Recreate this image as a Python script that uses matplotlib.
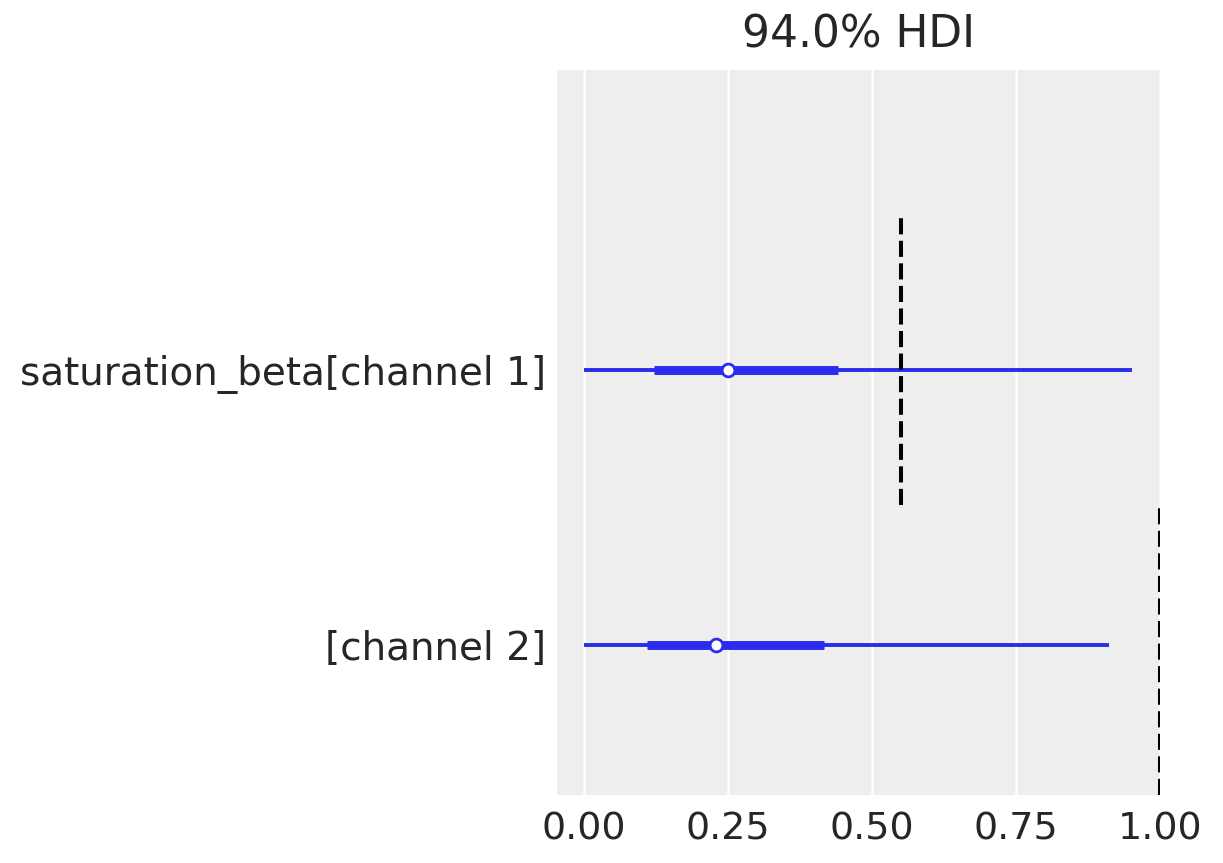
import matplotlib
matplotlib.use("Agg")
import matplotlib.pyplot as plt
import numpy as np

# forest plot data: 94% HDI, interquartile range, median, reference values
labels = ["saturation_beta[channel 1]", "[channel 2]"]
y_pos = [1.0, 0.0]
hdi_low = [0.0, 0.0]
hdi_high = [0.951, 0.911]
iqr_low = [0.122, 0.109]
iqr_high = [0.441, 0.417]
medians = [0.250, 0.229]
ref_values = [0.55, 1.0]
ref_spans = [(0.51, 1.565), (-0.545, 0.51)]

color = "#2a2eec"
text_color = "#262626"

fig = plt.figure(figsize=(6.115, 4.315), dpi=200)
ax = fig.add_axes([0.4554, 0.0788, 0.4931, 0.8401])
ax.set_facecolor("#eeeeee")
for s in ax.spines.values():
    s.set_visible(False)

for y, lo, hi, ql, qh, m in zip(y_pos, hdi_low, hdi_high, iqr_low, iqr_high, medians):
    ax.plot([lo, hi], [y, y], color=color, lw=1.4, solid_capstyle="butt", zorder=3)
    ax.plot([ql, qh], [y, y], color=color, lw=3.2, solid_capstyle="butt", zorder=3)
    ax.plot(m, y, "o", color=color, mfc="white", mec=color, ms=4.6, mew=1.0, zorder=4)

for v, (y0, y1) in zip(ref_values, ref_spans):
    ax.vlines(v, y0, y1, colors="black", linestyles=(0, (4, 1.6)), lw=1.45, zorder=5)

ax.set_xlim(-0.047, 1.0)
ax.set_ylim(-0.545, 2.09)
ax.set_xticks([0.0, 0.25, 0.5, 0.75, 1.0])
ax.set_xticklabels(["0.00", "0.25", "0.50", "0.75", "1.00"])
ax.set_yticks(y_pos)
ax.set_yticklabels(labels)
ax.tick_params(axis="both", length=0, colors=text_color)
ax.tick_params(axis="x", labelsize=13.7, pad=6)
ax.tick_params(axis="y", labelsize=14.0, pad=4)
ax.xaxis.grid(True, color="white", lw=0.9)
ax.yaxis.grid(False)
ax.set_axisbelow(True)
ax.set_title("94.0% HDI", fontsize=15.8, color=text_color, pad=8)

fig.savefig("out.png", dpi=200, facecolor="white")
